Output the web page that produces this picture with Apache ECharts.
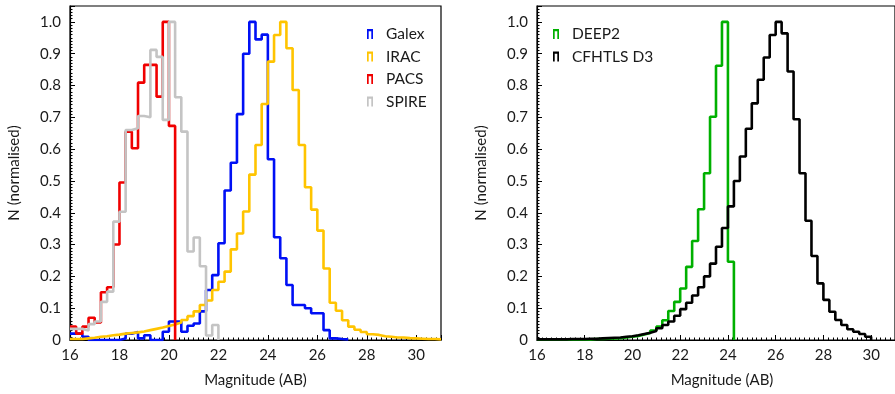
<!DOCTYPE html>
<html>
<head>
<meta charset="utf-8">
<script src="https://cdn.jsdelivr.net/npm/echarts@6/dist/echarts.min.js"></script>
<style>
  html, body { margin: 0; padding: 0; background: #fff; }
  #chart { width: 895px; height: 394px; }
</style>
</head>
<body>
<div id="chart"></div>
<script>
// histogram bin width (mag) and left edge of the first bin
const BIN = 0.25;
const START = 16;

// left panel: far-IR / UV / IR selected samples
const galex = [0.02, 0.02, 0.01, 0, 0, 0, 0, 0, 0.005, 0.02, 0.025, 0.005, 0.015, 0, 0, 0.026,
  0.058, 0.058, 0.026, 0.045, 0.052, 0.09, 0.157, 0.204, 0.304, 0.47, 0.557, 0.71, 0.9, 1.0,
  0.945, 0.96, 0.568, 0.323, 0.257, 0.173, 0.11, 0.11, 0.1, 0.084, 0.084, 0.031, 0.005, 0.003, 0.002];
const irac = [0.003, 0.003, 0.005, 0.007, 0.01, 0.012, 0.015, 0.017, 0.02, 0.022, 0.024, 0.027,
  0.031, 0.035, 0.039, 0.044, 0.049, 0.055, 0.063, 0.075, 0.09, 0.11, 0.124, 0.157, 0.183, 0.215,
  0.285, 0.335, 0.404, 0.52, 0.613, 0.742, 0.875, 0.959, 1.0, 0.917, 0.786, 0.613, 0.48, 0.41,
  0.344, 0.225, 0.117, 0.092, 0.062, 0.042, 0.032, 0.025, 0.018, 0.016, 0.012, 0.01, 0.008, 0.008,
  0.006, 0.005, 0.004, 0.003, 0.003, 0.002];
const pacs = [0.042, 0.02, 0.042, 0.07, 0.055, 0.15, 0.166, 0.3, 0.495, 0.655, 0.603, 0.809,
  0.865, 0.865, 0.765, 1.0, 0.673];
const spire = [0.035, 0.035, 0.03, 0.05, 0.058, 0.12, 0.152, 0.372, 0.403, 0.66, 0.666, 0.704,
  0.7, 0.912, 0.89, 0.692, 1.0, 0.763, 0.655, 0.278, 0.322, 0.232, 0.014, 0.047];

// right panel: optical spectroscopic / photometric samples
const deep2 = [0.001, 0.001, 0.001, 0.001, 0.001, 0.002, 0.002, 0.002, 0.002, 0.003, 0.003, 0.004,
  0.005, 0.006, 0.008, 0.01, 0.013, 0.017, 0.022, 0.03, 0.042, 0.062, 0.091, 0.12, 0.162, 0.23,
  0.311, 0.411, 0.524, 0.702, 0.862, 1.0, 0.246];
const cfhtls = [0.002, 0.002, 0.002, 0.002, 0.002, 0.003, 0.003, 0.003, 0.004, 0.004, 0.005, 0.006,
  0.007, 0.008, 0.01, 0.012, 0.015, 0.019, 0.023, 0.028, 0.037, 0.047, 0.058, 0.076, 0.097, 0.117,
  0.14, 0.166, 0.2, 0.24, 0.293, 0.352, 0.42, 0.5, 0.577, 0.664, 0.744, 0.818, 0.888, 0.959, 1.0,
  0.964, 0.844, 0.694, 0.524, 0.375, 0.264, 0.178, 0.126, 0.089, 0.063, 0.047, 0.034, 0.026, 0.019, 0.01];

const leftNames = ['Galex', 'IRAC', 'PACS', 'SPIRE'];
const rightNames = ['DEEP2', 'CFHTLS D3'];

const FONT = 'Lato';
const TEXT = '#1a1a1a';
const ICON = 'path://M0,0H6V10H4.3V2.2H1.7V10H0Z';

// bin left edges -> step points, closed at the last right edge
function steps(values) {
  const pts = values.map((v, i) => [START + i * BIN, v]);
  pts.push([START + values.length * BIN, 0]);
  return pts;
}

function hist(name, values, color, idx) {
  return {
    name: name,
    type: 'line',
    step: 'end',
    symbol: 'none',
    xAxisIndex: idx,
    yAxisIndex: idx,
    data: steps(values),
    color: color,
    lineStyle: { color: color, width: 2.6 },
    animation: false
  };
}

function xAxis(idx, shift) {
  return {
    type: 'value',
    gridIndex: idx,
    min: 16,
    max: 31,
    interval: 2,
    name: 'Magnitude (AB)',
    nameLocation: 'middle',
    nameGap: 33,
    nameTextStyle: { fontFamily: FONT, fontSize: 15, color: TEXT, padding: [0, 0, 0, shift] },
    axisLine: { lineStyle: { color: '#000', width: 1.2 } },
    axisTick: { inside: true, length: 5, lineStyle: { color: '#000' } },
    minorTick: { show: true, splitNumber: 10, length: 2.5, lineStyle: { color: '#000' } },
    splitLine: { show: false },
    axisLabel: { fontFamily: FONT, fontSize: 15, color: TEXT, margin: 8, showMaxLabel: false }
  };
}

function yAxis(idx) {
  return {
    type: 'value',
    gridIndex: idx,
    min: 0,
    max: 1.05,
    interval: 0.1,
    name: 'N (normalised)',
    nameLocation: 'middle',
    nameGap: 48,
    nameRotate: 90,
    nameTextStyle: { fontFamily: FONT, fontSize: 15, color: TEXT },
    axisLine: { lineStyle: { color: '#000', width: 1.2 } },
    axisTick: { inside: true, length: 5, lineStyle: { color: '#000' } },
    minorTick: { show: true, splitNumber: 10, length: 2.5, lineStyle: { color: '#000' } },
    splitLine: { show: false },
    axisLabel: {
      fontFamily: FONT, fontSize: 15, color: TEXT, margin: 9, showMaxLabel: false,
      formatter: v => (v === 0 ? '0' : v.toFixed(1))
    }
  };
}

function legend(names, left) {
  return {
    data: names,
    orient: 'vertical',
    left: left,
    top: 21,
    icon: ICON,
    itemWidth: 6,
    itemHeight: 10,
    itemGap: 6.5,
    textStyle: { fontFamily: FONT, fontSize: 15.5, color: TEXT, padding: [0, 0, 0, 8] }
  };
}

const chart = echarts.init(document.getElementById('chart'));
chart.setOption({
  backgroundColor: '#fff',
  animation: false,
  grid: [
    { left: 70, right: 454, top: 6, bottom: 54, show: true, borderColor: '#000', borderWidth: 1.2 },
    { left: 537, right: -10, top: 6, bottom: 54, show: true, borderColor: '#000', borderWidth: 1.2 }
  ],
  legend: [legend(leftNames, 362), legend(rightNames, 548)],
  xAxis: [xAxis(0, 0), xAxis(1, 12)],
  yAxis: [yAxis(0), yAxis(1)],
  series: [
    hist('Galex', galex, '#0010f5', 0),
    hist('IRAC', irac, '#ffc400', 0),
    hist('PACS', pacs, '#f00000', 0),
    hist('SPIRE', spire, '#c4c4c4', 0),
    hist('DEEP2', deep2, '#00b000', 1),
    hist('CFHTLS D3', cfhtls, '#000000', 1)
  ]
});
</script>
</body>
</html>
